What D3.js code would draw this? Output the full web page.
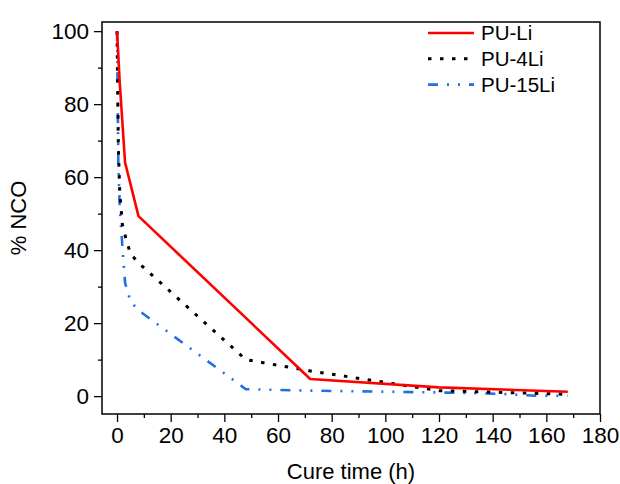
<!DOCTYPE html>
<html>
<head>
<meta charset="utf-8">
<script src="https://cdn.jsdelivr.net/npm/d3@7"></script>
<style>
  body { margin: 0; background: #fff; }
  svg { font-family: "Liberation Sans", Arial, sans-serif; display: block; }
</style>
</head>
<body>
<svg id="chart" width="620" height="484"></svg>
<script>
// data (cure time in h, % NCO)
var timesLi = [0, 1, 3, 8, 72, 120, 168];
var ncoLi = [100, 86, 64, 49.3, 4.7, 2.4, 1.2];

var times4Li = [0, 0.5, 1, 2, 3, 5, 8, 48, 72, 120, 168];
var nco4Li = [100, 68, 56, 47, 44, 39, 36.5, 10, 6.9, 1.5, 0.5];

var times15Li = [0, 0.5, 1, 2, 3, 5, 8, 48, 72, 120, 144, 156, 168];
var nco15Li = [100, 63, 52, 41, 31, 26, 23.5, 1.9, 1.5, 1.0, 0.6, 0.1, 0.1];

var seriesNames = ['PU-Li', 'PU-4Li', 'PU-15Li'];
var xTicks = [0, 20, 40, 60, 80, 100, 120, 140, 160, 180];
var yTicks = [0, 20, 40, 60, 80, 100];

var series = [
  {name: seriesNames[0], t: timesLi, v: ncoLi, color: '#ff0000', dash: null, width: 2.6},
  {name: seriesNames[1], t: times4Li, v: nco4Li, color: '#000000', dash: '3.5,8.5', width: 3},
  {name: seriesNames[2], t: times15Li, v: nco15Li, color: '#2070e0', dash: '10,9,2,9,2,9', width: 2.6}
];

var svg = d3.select('#chart');
// plot frame (window.top is reserved, so use a prefix)
var pLeft = 102, pRight = 600, pTop = 22, pBottom = 414;

var x = d3.scaleLinear().domain([-5.6, 180]).range([pLeft, pRight]);
var y = d3.scaleLinear().domain([-4.9, 102.5]).range([pBottom, pTop]);

// minor ticks first, then major ones with labels
svg.append('g')
  .attr('transform', 'translate(0,' + pBottom + ')')
  .call(d3.axisBottom(x).tickValues(d3.range(10, 180, 20)).tickSize(4).tickFormat(''))
  .call(function (g) { g.select('.domain').remove(); g.selectAll('line').attr('stroke-width', 1.3); });

svg.append('g')
  .attr('transform', 'translate(' + pLeft + ',0)')
  .call(d3.axisLeft(y).tickValues(d3.range(10, 100, 20)).tickSize(4).tickFormat(''))
  .call(function (g) { g.select('.domain').remove(); g.selectAll('line').attr('stroke-width', 1.3); });

var xAxis = svg.append('g')
  .attr('transform', 'translate(0,' + pBottom + ')')
  .call(d3.axisBottom(x).tickValues(xTicks).tickSize(8).tickPadding(5))
  .call(function (g) { g.select('.domain').remove(); });
xAxis.selectAll('line').attr('stroke-width', 1.3);
xAxis.selectAll('text').attr('font-size', 22.5).attr('font-family', 'Liberation Sans, Arial, sans-serif').attr('fill', '#000');

var yAxis = svg.append('g')
  .attr('transform', 'translate(' + pLeft + ',0)')
  .call(d3.axisLeft(y).tickValues(yTicks).tickSize(8).tickPadding(5))
  .call(function (g) { g.select('.domain').remove(); });
yAxis.selectAll('line').attr('stroke-width', 1.3);
yAxis.selectAll('text').attr('font-size', 22.5).attr('font-family', 'Liberation Sans, Arial, sans-serif').attr('fill', '#000');

// frame
svg.append('rect')
  .attr('x', pLeft).attr('y', pTop)
  .attr('width', pRight - pLeft).attr('height', pBottom - pTop)
  .attr('fill', 'none').attr('stroke', '#000').attr('stroke-width', 1.5);

// curves
var line = d3.line()
  .x(function (d) { return x(d[0]); })
  .y(function (d) { return y(d[1]); });

svg.append('g').selectAll('path')
  .data(series.slice().reverse())
  .join('path')
  .attr('d', function (s) { return line(d3.zip(s.t, s.v)); })
  .attr('fill', 'none')
  .attr('stroke', function (s) { return s.color; })
  .attr('stroke-width', function (s) { return s.width; })
  .attr('stroke-dasharray', function (s) { return s.dash; })
  .attr('stroke-linejoin', 'round');

// legend
var legend = svg.append('g').attr('transform', 'translate(428,33)');
var rows = legend.selectAll('g').data(series).join('g')
  .attr('transform', function (s, i) { return 'translate(0,' + (i * 25.8) + ')'; });
rows.append('line')
  .attr('x1', 0).attr('x2', 46).attr('y1', 0).attr('y2', 0)
  .attr('stroke', function (s) { return s.color; })
  .attr('stroke-width', function (s) { return s.width; })
  .attr('stroke-dasharray', function (s) { return s.dash; });
rows.append('text')
  .attr('x', 53).attr('y', 7)
  .attr('font-size', 20.5)
  .text(function (s) { return s.name; });

// axis titles
svg.append('text')
  .attr('x', (pLeft + pRight) / 2).attr('y', 479)
  .attr('text-anchor', 'middle').attr('font-size', 22)
  .text('Cure time (h)');

svg.append('text')
  .attr('transform', 'translate(26,' + ((pTop + pBottom) / 2) + ') rotate(-90)')
  .attr('text-anchor', 'middle').attr('font-size', 22)
  .text('% NCO');
</script>
</body>
</html>
